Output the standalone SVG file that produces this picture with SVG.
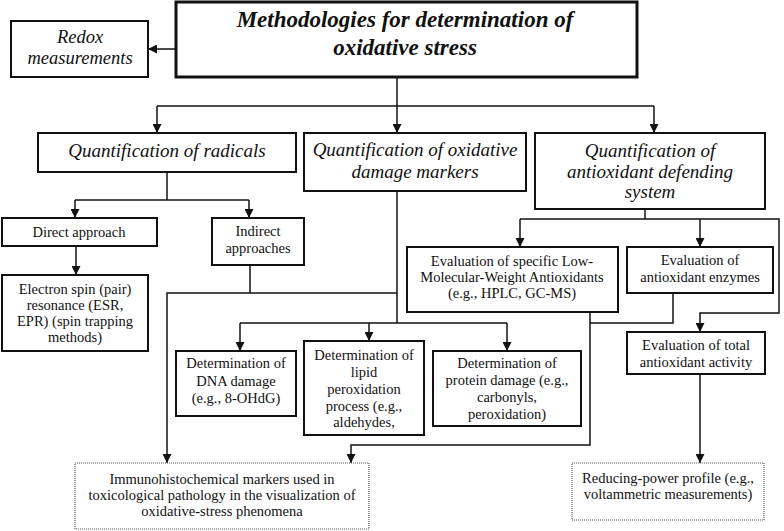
<svg xmlns="http://www.w3.org/2000/svg" width="784" height="531" viewBox="0 0 784 531">
<style>
.bg{fill:#fff}
.box{fill:#fff;stroke:#111;stroke-width:2}
.thick{fill:#fff;stroke:#111;stroke-width:3}
.dot{fill:#fff;stroke:#555;stroke-width:1.2;stroke-dasharray:1 1}
.t{font-family:"Liberation Serif","Times New Roman",serif;font-size:14.5px;fill:#111;text-anchor:middle}
.h{font-family:"Liberation Serif","Times New Roman",serif;font-size:19px;font-style:italic;fill:#111;text-anchor:middle}
.ti{font-family:"Liberation Serif","Times New Roman",serif;font-size:23px;font-style:italic;font-weight:bold;fill:#111;text-anchor:middle}
.c{fill:none;stroke:#111;stroke-width:1.5}
</style>
<defs>
<marker id="ar" viewBox="0 0 10 10" refX="10" refY="5" markerWidth="9" markerHeight="9" markerUnits="userSpaceOnUse" orient="auto">
<path d="M0,0 L10,5 L0,10 z" fill="#111"/>
</marker>
</defs>
<rect class="bg" x="0" y="0" width="784" height="531"/>
<g id="connectors">
<path class="c" d="M176,49 H148" marker-end="url(#ar)"/>
<path class="c" d="M397,77 V133" marker-end="url(#ar)"/>
<path class="c" d="M157,106 H654"/>
<path class="c" d="M157,106 V133" marker-end="url(#ar)"/>
<path class="c" d="M654,106 V133" marker-end="url(#ar)"/>
<path class="c" d="M167,172 V200"/>
<path class="c" d="M75,200 H249"/>
<path class="c" d="M75,200 V218" marker-end="url(#ar)"/>
<path class="c" d="M249,200 V218" marker-end="url(#ar)"/>
<path class="c" d="M76,246 V275" marker-end="url(#ar)"/>
<path class="c" d="M250,265 V293"/>
<path class="c" d="M397,293 H167 V463" marker-end="url(#ar)"/>
<path class="c" d="M397,191 V323"/>
<path class="c" d="M240,323 H507"/>
<path class="c" d="M240,323 V351" marker-end="url(#ar)"/>
<path class="c" d="M369,323 V341" marker-end="url(#ar)"/>
<path class="c" d="M507,323 V351" marker-end="url(#ar)"/>
<path class="c" d="M645,209 V219"/>
<path class="c" d="M520,219 H779 V313 H700 V332" marker-end="url(#ar)"/>
<path class="c" d="M520,219 V247" marker-end="url(#ar)"/>
<path class="c" d="M700,219 V247" marker-end="url(#ar)"/>
<path class="c" d="M673,293 V323 H590"/>
<path class="c" d="M590,312 V445 H351 V463" marker-end="url(#ar)"/>
<path class="c" d="M700,374 V463" marker-end="url(#ar)"/>
</g>
<g id="title">
<rect class="thick" x="176" y="2" width="461" height="75"/>
<text class="ti" x="405" y="27">Methodologies for determination of</text>
<text class="ti" x="405" y="55">oxidative stress</text>
</g>
<g id="redox">
<rect class="box" x="11" y="21" width="137" height="56"/>
<text class="h" x="80" y="43" style="font-size:18.5px">Redox</text>
<text class="h" x="80" y="64" style="font-size:18.5px">measurements</text>
</g>
<g id="radicals">
<rect class="box" x="38" y="133" width="258" height="39"/>
<text class="h" x="167" y="157">Quantification of radicals</text>
</g>
<g id="damage">
<rect class="box" x="304" y="133" width="222" height="58"/>
<text class="h" x="415" y="156">Quantification of oxidative</text>
<text class="h" x="415" y="178">damage markers</text>
</g>
<g id="antioxidant">
<rect class="box" x="535" y="133" width="230" height="76"/>
<text class="h" x="650" y="157">Quantification of</text>
<text class="h" x="650" y="178">antioxidant defending</text>
<text class="h" x="650" y="198">system</text>
</g>
<g id="direct">
<rect class="box" x="2" y="218" width="155" height="28"/>
<text class="t" x="79" y="237">Direct approach</text>
</g>
<g id="indirect">
<rect class="box" x="212" y="218" width="92" height="47"/>
<text class="t" x="258" y="236">Indirect</text>
<text class="t" x="258" y="253">approaches</text>
</g>
<g id="esr">
<rect class="box" x="2" y="275" width="146" height="76"/>
<text class="t" x="75" y="294">Electron spin (pair)</text>
<text class="t" x="75" y="310">resonance (ESR,</text>
<text class="t" x="75" y="326">EPR) (spin trapping</text>
<text class="t" x="75" y="342">methods)</text>
</g>
<g id="lmw">
<rect class="box" x="407" y="247" width="211" height="65"/>
<text class="t" x="512" y="266">Evaluation of specific Low-</text>
<text class="t" x="512" y="282">Molecular-Weight Antioxidants</text>
<text class="t" x="512" y="298">(e.g., HPLC, GC-MS)</text>
</g>
<g id="enzymes">
<rect class="box" x="627" y="247" width="146" height="46"/>
<text class="t" x="700" y="265">Evaluation of</text>
<text class="t" x="700" y="282">antioxidant enzymes</text>
</g>
<g id="total">
<rect class="box" x="627" y="332" width="138" height="42"/>
<text class="t" x="696" y="350">Evaluation of total</text>
<text class="t" x="696" y="367">antioxidant activity</text>
</g>
<g id="dna">
<rect class="box" x="176" y="351" width="120" height="65"/>
<text class="t" x="236" y="368">Determination of</text>
<text class="t" x="236" y="385.5">DNA damage</text>
<text class="t" x="236" y="403">(e.g., 8-OHdG)</text>
</g>
<g id="lipid">
<rect class="box" x="304" y="341" width="120" height="94"/>
<text class="t" x="364" y="360">Determination of</text>
<text class="t" x="364" y="377">lipid</text>
<text class="t" x="364" y="394">peroxidation</text>
<text class="t" x="364" y="411">process (e.g.,</text>
<text class="t" x="364" y="427">aldehydes,</text>
</g>
<g id="protein">
<rect class="box" x="433" y="351" width="148" height="75"/>
<text class="t" x="507" y="368">Determination of</text>
<text class="t" x="507" y="385">protein damage (e.g.,</text>
<text class="t" x="507" y="402">carbonyls,</text>
<text class="t" x="507" y="419">peroxidation)</text>
</g>
<g id="immuno">
<rect class="dot" x="75" y="463" width="294" height="66"/>
<text class="t" x="222" y="484">Immunohistochemical markers used in</text>
<text class="t" x="222" y="500">toxicological pathology in the visualization of</text>
<text class="t" x="222" y="516">oxidative-stress phenomena</text>
</g>
<g id="reducing">
<rect class="dot" x="572" y="463" width="192" height="57"/>
<text class="t" x="668" y="483">Reducing-power profile (e.g.,</text>
<text class="t" x="668" y="499">voltammetric measurements)</text>
</g>
</svg>
